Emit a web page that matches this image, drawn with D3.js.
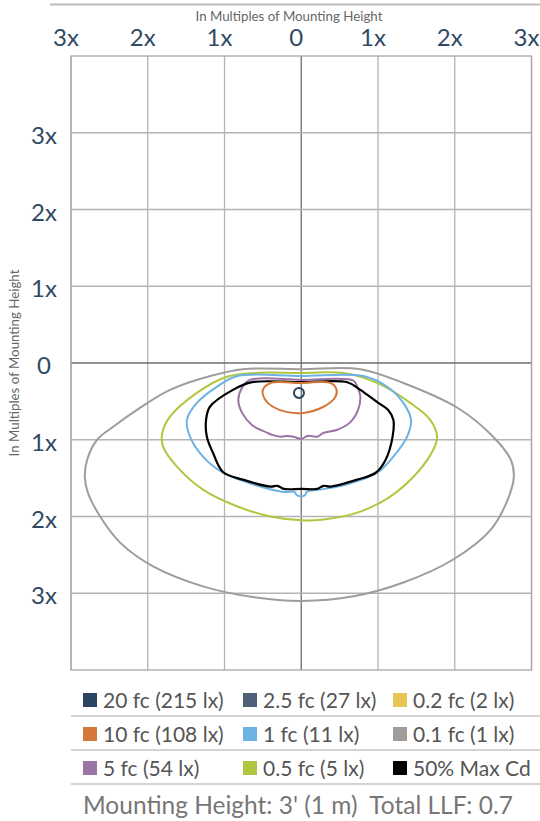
<!DOCTYPE html>
<html>
<head>
<meta charset="utf-8">
<script src="https://cdn.jsdelivr.net/npm/d3@7"></script>
<style>
  html, body { margin: 0; padding: 0; background: #fff; }
  svg { display: block; font-family: Lato, "Open Sans", sans-serif; }
</style>
</head>
<body>
<svg id="chart" width="540" height="821"></svg>
<script>
// ---- Data ----
const xTickValues = [-3, -2, -1, 0, 1, 2, 3];
const xTickLabels = ["3x", "2x", "1x", "0", "1x", "2x", "3x"];
const yTickValues = [-3, -2, -1, 0, 1, 2, 3];
const yTickLabels = ["3x", "2x", "1x", "0", "1x", "2x", "3x"];
const axisTitle = "In Multiples of Mounting Height";

const legendLabels = [
  "20 fc (215 lx)", "2.5 fc (27 lx)", "0.2 fc (2 lx)",
  "10 fc (108 lx)", "1 fc (11 lx)", "0.1 fc (1 lx)",
  "5 fc (54 lx)", "0.5 fc (5 lx)", "50% Max Cd"
];
const legendColors = [
  "#2b4560", "#4f6178", "#e8c655",
  "#d4783a", "#6cb2e3", "#a09c99",
  "#9b74a6", "#b0c63e", "#000000"
];
const footerText = "Mounting Height: 3' (1 m)  Total LLF: 0.7";

// Isofootcandle contours: [lateral x, forward y] in multiples of mounting height
const contour01fc = [[0,0.08],[0.77,0.08],[1.33,0.26],[2.03,0.58],[2.50,0.96],[2.73,1.26],[2.77,1.48],[2.69,1.78],[2.47,2.17],[1.98,2.56],[1.33,2.86],[0.68,3.04],[0,3.10],[-0.63,3.05],[-1.28,2.91],[-1.93,2.65],[-2.36,2.34],[-2.62,2.00],[-2.78,1.69],[-2.82,1.48],[-2.79,1.26],[-2.66,1.00],[-2.45,0.83],[-2.14,0.61],[-1.71,0.35],[-1.15,0.16],[-0.76,0.08]];
const contour05fc = [[0,0.13],[0.55,0.13],[0.99,0.26],[1.42,0.52],[1.68,0.74],[1.77,0.96],[1.72,1.13],[1.51,1.43],[1.16,1.74],[0.73,1.95],[0.29,2.04],[0,2.05],[-0.40,2.00],[-0.83,1.87],[-1.28,1.65],[-1.62,1.35],[-1.80,1.09],[-1.81,0.91],[-1.71,0.70],[-1.36,0.39],[-0.97,0.18],[-0.60,0.13]];
const contour1fc = [[0,0.17],[0.81,0.17],[1.12,0.31],[1.33,0.52],[1.43,0.74],[1.38,0.96],[1.20,1.22],[0.99,1.43],[0.60,1.58],[0.25,1.65],[0.07,1.68],[0.05,1.72],[0,1.74],[-0.06,1.72],[-0.09,1.68],[-0.23,1.68],[-0.63,1.58],[-1.02,1.43],[-1.28,1.22],[-1.45,0.96],[-1.49,0.74],[-1.36,0.52],[-1.10,0.31],[-0.83,0.17]];
const contourMaxCd = [[0,0.25],[0.60,0.25],[0.77,0.35],[0.99,0.51],[1.13,0.61],[1.20,0.74],[1.19,0.96],[1.10,1.26],[0.97,1.43],[0.73,1.52],[0.38,1.61],[0.29,1.60],[0.21,1.64],[0,1.64],[-0.23,1.64],[-0.31,1.60],[-0.40,1.61],[-0.76,1.52],[-1.02,1.42],[-1.15,1.17],[-1.23,0.96],[-1.24,0.74],[-1.19,0.57],[-0.89,0.35],[-0.64,0.25]];
const contour5fc = [[0,0.22],[0.68,0.23],[0.73,0.31],[0.77,0.44],[0.74,0.61],[0.64,0.77],[0.47,0.87],[0.29,0.91],[0.21,0.96],[0.08,0.95],[0,0.99],[-0.10,0.96],[-0.18,0.95],[-0.27,0.96],[-0.37,0.94],[-0.44,0.91],[-0.64,0.81],[-0.77,0.65],[-0.82,0.48],[-0.77,0.32],[-0.67,0.22]];
const contour10fc = [[0,0.26],[0.38,0.26],[0.46,0.35],[0.44,0.45],[0.29,0.57],[0.03,0.65],[-0.18,0.64],[-0.37,0.57],[-0.47,0.48],[-0.50,0.35],[-0.40,0.26]];
const contour20fc = [[-0.03,0.325],[0.016,0.344],[0.035,0.39],[0.016,0.436],[-0.03,0.455],[-0.076,0.436],[-0.095,0.39],[-0.076,0.344]];

(function () {
const contours = [
  { pts: contour01fc, color: legendColors[5], w: 2 },
  { pts: contour05fc, color: legendColors[7], w: 2 },
  { pts: contour1fc, color: legendColors[4], w: 2 },
  { pts: contour5fc, color: legendColors[6], w: 2 },
  { pts: contourMaxCd, color: legendColors[8], w: 2.2 },
  { pts: contour10fc, color: legendColors[3], w: 2 },
  { pts: contour20fc, color: legendColors[0], w: 2 }
];

// ---- Layout ----
const svg = d3.select("#chart");
const pLeft = 71, pRight = 531.5, pTop = 56, pBottom = 670;
const x = d3.scaleLinear().domain([-3, 3]).range([pLeft, pRight]);
const y = d3.scaleLinear().domain([-4, 4]).range([pTop, pBottom]);

// top rule
svg.append("line").attr("x1", 50).attr("x2", 540).attr("y1", 4.5).attr("y2", 4.5)
  .attr("stroke", "#bdbdbd").attr("stroke-width", 2);

// grid
const g = svg.append("g");
g.selectAll("line.v").data(xTickValues).join("line").attr("class", "v")
  .attr("x1", d => x(d)).attr("x2", d => x(d)).attr("y1", pTop).attr("y2", pBottom)
  .attr("stroke", d => d === 0 ? "#6e6e6e" : "#b4b4b4").attr("stroke-width", 1.3);
g.selectAll("line.h").data(yTickValues).join("line").attr("class", "h")
  .attr("x1", pLeft).attr("x2", pRight).attr("y1", d => y(d)).attr("y2", d => y(d))
  .attr("stroke", d => d === 0 ? "#6e6e6e" : "#b4b4b4").attr("stroke-width", 1.3);
g.append("rect").attr("x", pLeft).attr("y", pTop).attr("width", pRight - pLeft).attr("height", pBottom - pTop)
  .attr("fill", "none").attr("stroke", "#a8a8a8").attr("stroke-width", 1.3);

// contours
const line = d3.line().x(d => x(d[0])).y(d => y(d[1])).curve(d3.curveCatmullRomClosed.alpha(0.5));
svg.append("g").selectAll("path").data(contours).join("path")
  .attr("d", d => line(d.pts))
  .attr("fill", "none").attr("stroke", d => d.color).attr("stroke-width", d => d.w)
  .attr("stroke-linejoin", "round");

// axis titles
svg.append("text").attr("x", 289).attr("y", 21).attr("text-anchor", "middle")
  .attr("font-size", 13.3).attr("fill", "#666").text(axisTitle);
svg.append("text").attr("transform", `translate(18.5,${y(0)}) rotate(-90)`).attr("text-anchor", "middle")
  .attr("font-size", 13.3).attr("fill", "#666").text(axisTitle);

// tick labels
svg.append("g").selectAll("text").data(xTickValues).join("text")
  .attr("x", d => x(d) - 5).attr("y", 45.5).attr("text-anchor", "middle")
  .attr("font-size", 24).attr("fill", "#2f4a64").text((d, i) => xTickLabels[i]);
svg.append("g").selectAll("text").data(yTickValues).join("text")
  .attr("x", 44).attr("y", d => y(d) + 11).attr("text-anchor", "middle")
  .attr("font-size", 24).attr("fill", "#2f4a64").text((d, i) => yTickLabels[i]);

// legend
const colX = [83, 243, 393];
const rowY = [700, 734, 768];
const leg = svg.append("g");
legendLabels.forEach((lab, i) => {
  const c = i % 3, r = Math.floor(i / 3);
  leg.append("rect").attr("x", colX[c]).attr("y", rowY[r] - 7).attr("width", 14).attr("height", 14)
    .attr("fill", legendColors[i]);
  leg.append("text").attr("x", colX[c] + 20).attr("y", rowY[r] + 7.5)
    .attr("font-size", 21).attr("fill", "#555").text(lab);
});
rowY.forEach(ry => {
  leg.append("line").attr("x1", 71).attr("x2", 540).attr("y1", ry + 16).attr("y2", ry + 16)
    .attr("stroke", "#c4c4c4").attr("stroke-width", 1.5);
});

svg.append("text").attr("x", 83).attr("y", 814).attr("font-size", 24.5).attr("fill", "#777")
  .style("white-space", "pre").text(footerText);
})();
</script>
</body>
</html>
